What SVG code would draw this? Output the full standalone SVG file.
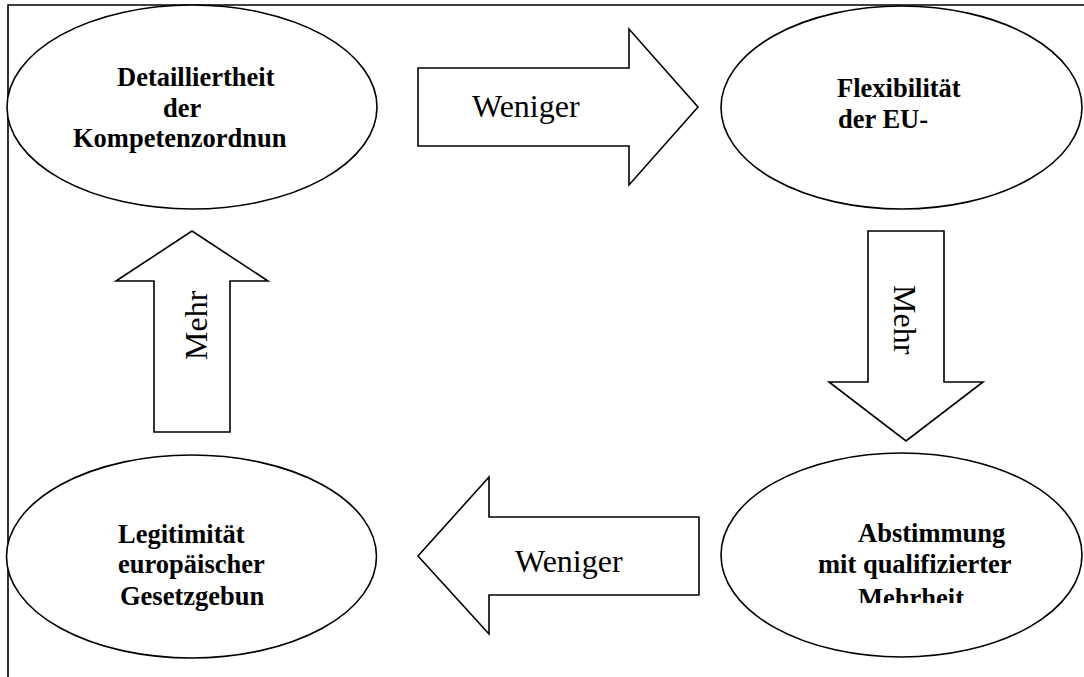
<svg xmlns="http://www.w3.org/2000/svg" width="1084" height="677" viewBox="0 0 1084 677">
<style>
.node{fill:#fff;stroke:#000;stroke-width:1.6}
.arrow{fill:#fff;stroke:#000;stroke-width:1.6;stroke-linejoin:miter}
.nt{font-family:"Liberation Serif","Times New Roman",serif;font-weight:bold;font-size:26.5px;fill:#000}
.at{font-family:"Liberation Serif","Times New Roman",serif;font-size:32px;fill:#000}
.frame{stroke:#000;stroke-width:1.6;fill:none}
</style>
<defs>
<clipPath id="clipBR"><rect x="700" y="440" width="384" height="163"/></clipPath>
</defs>
<rect width="1084" height="677" fill="#fff"/>
<path class="frame" d="M8,677 L8,5 L1084,5"/>
<g id="connectors">
<g id="arrow-top">
<polygon class="arrow" points="418,68 629,68 629,29 698,107 629,185 629,146 418,146"/>
<text class="at" x="472" y="117">Weniger</text>
</g>
<g id="arrow-right">
<polygon class="arrow" points="868,231 944,231 944,382 983,382 906,441 829,382 868,382"/>
<text class="at" transform="translate(894,285) rotate(90)">Mehr</text>
</g>
<g id="arrow-bottom">
<polygon class="arrow" points="699,517 699,595 489,595 489,634 418,556 489,477 489,517"/>
<text class="at" x="515" y="572">Weniger</text>
</g>
<g id="arrow-left">
<polygon class="arrow" points="154,432 154,281 116,281 192,231 268,281 230,281 230,432"/>
<text class="at" transform="translate(207,360) rotate(-90)">Mehr</text>
</g>
</g>
<g id="node-detail">
<ellipse class="node" cx="192" cy="107" rx="185" ry="102"/>
<text class="nt" x="117" y="86">Detailliertheit</text>
<text class="nt" x="163" y="117">der</text>
<text class="nt" x="73" y="147">Kompetenzordnun</text>
</g>
<g id="node-flex">
<ellipse class="node" cx="901.5" cy="107.5" rx="180.5" ry="101.5"/>
<text class="nt" x="837" y="97">Flexibilität</text>
<text class="nt" x="838" y="128">der EU-</text>
</g>
<g id="node-legit">
<ellipse class="node" cx="191.5" cy="556.5" rx="185" ry="101.5"/>
<text class="nt" x="118" y="543">Legitimität</text>
<text class="nt" x="118" y="573">europäischer</text>
<text class="nt" x="120" y="605">Gesetzgebun</text>
</g>
<g id="node-abst">
<ellipse class="node" cx="901.5" cy="555" rx="180.5" ry="102"/>
<text class="nt" x="858" y="542">Abstimmung</text>
<text class="nt" x="818" y="573">mit qualifizierter</text>
<text class="nt" x="858" y="607" clip-path="url(#clipBR)">Mehrheit</text>
</g>
</svg>
